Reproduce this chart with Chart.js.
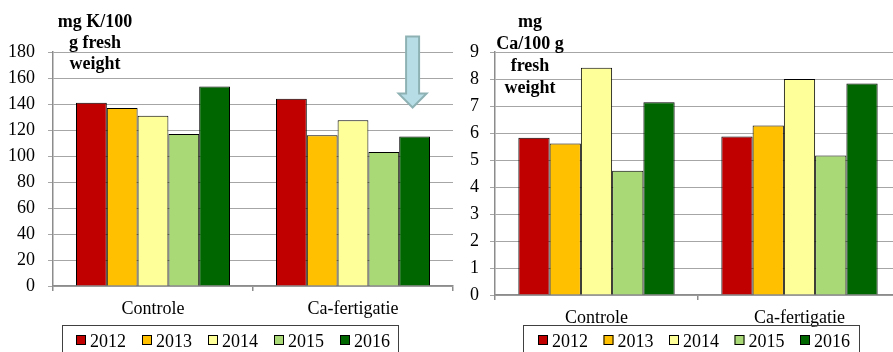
<!DOCTYPE html>
<html>
<head>
<meta charset="utf-8">
<script src="https://cdn.jsdelivr.net/npm/chart.js@4/dist/chart.umd.min.js"></script>
<style>
  html, body { margin: 0; padding: 0; background: #fff; overflow: hidden; width: 893px; height: 352px; }
  canvas { position: absolute; top: 0; }
  #kChart { left: 0; }
  #caChart { left: 455px; }
</style>
</head>
<body>
<canvas id="kChart" width="455" height="352"></canvas>
<canvas id="caChart" width="450" height="352"></canvas>
<script>
// Treatments on the x axis and the harvest years shown as bars
const categories = ['Controle', 'Ca-fertigatie'];
const years = ['2012', '2013', '2014', '2015', '2016'];
const yearColors = ['#C00000', '#FFC000', '#FFFF99', '#A9D877', '#006600'];

// Potassium, mg K/100 g fresh weight  [Controle, Ca-fertigatie]
const k2012 = [141, 144];
const k2013 = [137, 116];
const k2014 = [131, 127.5];
const k2015 = [117, 103];
const k2016 = [153.5, 115];

// Calcium, mg Ca/100 g fresh weight  [Controle, Ca-fertigatie]
const ca2012 = [5.82, 5.87];
const ca2013 = [5.61, 6.28];
const ca2014 = [8.42, 8.0];
const ca2015 = [4.6, 5.17];
const ca2016 = [7.14, 7.83];

// Value axis ranges: [min, max, step]
const kAxis = [0, 180, 20];
const caAxis = [0, 9, 1];

// Axis titles, one line per entry
const kTitle = ['mg K/100', 'g fresh', 'weight'];
const caTitle = ['mg', 'Ca/100 g', 'fresh', 'weight'];

const FONT = '"Liberation Serif", "Times New Roman", serif';

function makeDatasets(series) {
  return series.map((values, i) => ({
    label: years[i],
    data: values,
    backgroundColor: yearColors[i],
    borderColor: '#000',
    borderWidth: 1,
    borderSkipped: 'bottom',
    barPercentage: 1.0,
    categoryPercentage: 0.77
  }));
}

// Multi-line bold unit label drawn over the top-left of the plot
const unitLabel = {
  id: 'unitLabel',
  afterDraw(chart, args, opts) {
    const ctx = chart.ctx;
    ctx.save();
    ctx.font = 'bold 18px ' + FONT;
    ctx.fillStyle = '#000';
    ctx.textAlign = 'center';
    ctx.textBaseline = 'alphabetic';
    opts.lines.forEach((line, i) => {
      ctx.fillText(line, opts.x, opts.y + i * opts.lineHeight);
    });
    ctx.restore();
  }
};

// Boxed legend along the bottom edge
const boxedLegend = {
  id: 'boxedLegend',
  afterDraw(chart, args, opts) {
    const ctx = chart.ctx;
    ctx.save();
    ctx.strokeStyle = '#404040';
    ctx.lineWidth = 1;
    ctx.strokeRect(opts.x + 0.5, opts.y + 0.5, opts.width, 60);
    ctx.font = '18px ' + FONT;
    ctx.textBaseline = 'alphabetic';
    ctx.textAlign = 'left';
    let x = opts.x + opts.inset;
    chart.data.datasets.forEach(ds => {
      ctx.fillStyle = ds.backgroundColor;
      ctx.fillRect(x, opts.y + 10, 10, 10);
      ctx.strokeStyle = '#000';
      ctx.strokeRect(x + 0.5, opts.y + 10.5, 9, 9);
      ctx.fillStyle = '#000';
      ctx.fillText(ds.label, x + 14, opts.y + 22);
      x += 14 + ctx.measureText(ds.label).width + opts.spacing;
    });
    ctx.restore();
  }
};

// Downward arrow pointing at the 2016 Ca-fertigatie bar
const pointerArrow = {
  id: 'pointerArrow',
  afterDatasetsDraw(chart, args, opts) {
    if (!opts.enabled) return;
    const bar = chart.getDatasetMeta(4).data[1];
    const cx = bar.x - 2;
    const tip = bar.y - 29;
    const top = tip - 71;
    const headTop = tip - 14;
    const ctx = chart.ctx;
    ctx.save();
    ctx.beginPath();
    ctx.moveTo(cx - 6.5, top);
    ctx.lineTo(cx + 6.5, top);
    ctx.lineTo(cx + 6.5, headTop);
    ctx.lineTo(cx + 14, headTop);
    ctx.lineTo(cx, tip);
    ctx.lineTo(cx - 14, headTop);
    ctx.lineTo(cx - 6.5, headTop);
    ctx.closePath();
    ctx.fillStyle = '#B7DEE6';
    ctx.fill();
    ctx.strokeStyle = '#8EB2B4';
    ctx.lineWidth = 2;
    ctx.stroke();
    ctx.restore();
  }
};

function makeOptions(axis, yWidth, xHeight, padRight, yPad, title, legend, arrow) {
  return {
    responsive: false,
    animation: false,
    devicePixelRatio: 1,
    layout: { padding: { top: 52, right: padRight, left: 0, bottom: 0 } },
    plugins: {
      legend: { display: false },
      tooltip: { enabled: false },
      unitLabel: title,
      boxedLegend: legend,
      pointerArrow: { enabled: arrow }
    },
    scales: {
      x: {
        offset: true,
        grid: { offset: true, drawOnChartArea: false, color: '#8C8C8C', lineWidth: 1.5, tickLength: 5 },
        border: { color: '#8C8C8C', width: 1.5 },
        ticks: { color: '#000', font: { family: FONT, size: 18 }, padding: 7, maxRotation: 0 },
        afterFit(scale) { scale.height = xHeight; }
      },
      y: {
        min: axis[0],
        max: axis[1],
        grid: { color: '#A6A6A6', lineWidth: 1, tickLength: 5 },
        border: { color: '#8C8C8C', width: 1.5 },
        ticks: { stepSize: axis[2], color: '#000', font: { family: FONT, size: 18 }, padding: yPad },
        afterFit(scale) { scale.width = yWidth; }
      }
    }
  };
}

function drawCharts() {
  new Chart(document.getElementById('kChart'), {
    type: 'bar',
    data: { labels: categories, datasets: makeDatasets([k2012, k2013, k2014, k2015, k2016]) },
    options: makeOptions(kAxis, 53, 66, 2, 13,
      { lines: kTitle, x: 95, y: 27, lineHeight: 21 },
      { x: 62, y: 325, width: 336, inset: 14, spacing: 16 },
      true),
    plugins: [unitLabel, boxedLegend, pointerArrow]
  });

  new Chart(document.getElementById('caChart'), {
    type: 'bar',
    data: { labels: categories, datasets: makeDatasets([ca2012, ca2013, ca2014, ca2015, ca2016]) },
    options: makeOptions(caAxis, 40, 57, 4, 11,
      { lines: caTitle, x: 75, y: 27, lineHeight: 22 },
      { x: 68, y: 325, width: 336, inset: 15, spacing: 15.5 },
      false),
    plugins: [unitLabel, boxedLegend, pointerArrow]
  });
}

Promise.all([
  document.fonts.load('18px "Liberation Serif"'),
  document.fonts.load('bold 18px "Liberation Serif"')
]).then(drawCharts, drawCharts);
</script>
</body>
</html>
